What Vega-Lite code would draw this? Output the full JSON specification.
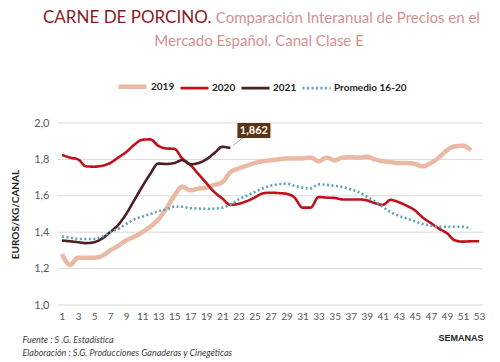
{
  "$schema": "https://vega.github.io/schema/vega-lite/v6.json",
  "autosize": {"type": "none"},
  "width": 425,
  "height": 182,
  "padding": {"left": 58, "top": 123, "right": 17, "bottom": 57},
  "background": "white",
  "config": {
    "view": {"stroke": null},
    "locale": {"number": {"decimal": ",", "thousands": ".", "grouping": [3], "currency": ["", " €"]}},
    "font": "Lato",
    "axisY": {
      "grid": false, "tickCount": 5, "labelOverlap": false,
      "domain": false, "ticks": false,
      "labelFont": "Lato", "labelFontSize": 11, "labelColor": "#595959", "labelPadding": 9,
      "titleFont": "Lato", "titleFontSize": 10, "titleFontWeight": "bold", "titleColor": "#262626", "titlePadding": 13
    }
  },
  "title": {
    "text": "CARNE DE PORCINO.",
    "anchor": "start",
    "frame": "group",
    "dx": -15,
    "offset": 20,
    "font": "Lato",
    "fontSize": 17,
    "fontWeight": "normal",
    "color": "#8b1a1f",
    "subtitle": [
      "\u200b\u00a0\u00a0\u00a0\u00a0\u00a0\u00a0\u00a0\u00a0\u00a0\u00a0\u00a0\u00a0\u00a0\u00a0\u00a0\u00a0\u00a0\u00a0\u00a0\u00a0\u00a0\u00a0\u00a0\u00a0\u00a0\u00a0\u00a0\u00a0\u00a0\u00a0\u00a0\u00a0\u00a0\u00a0\u00a0\u00a0\u00a0\u00a0\u00a0\u00a0\u00a0\u00a0\u00a0\u00a0\u00a0Comparación Interanual de Precios en el",
      "\u200b\u00a0\u00a0\u00a0\u00a0\u00a0\u00a0\u00a0\u00a0\u00a0\u00a0\u00a0\u00a0\u00a0\u00a0\u00a0\u00a0\u00a0\u00a0\u00a0\u00a0\u00a0\u00a0\u00a0\u00a0\u00a0\u00a0\u00a0\u00a0\u00a0Mercado Español. Canal Clase E"
    ],
    "subtitleFont": "Lato",
    "subtitleFontSize": 15,
    "subtitleColor": "#d8908f",
    "subtitlePadding": -16,
    "subtitleLineHeight": 23
  },
  "data": {
    "values": [
      {"serie": "2019", "semana": 1, "precio": 1.28},
      {"serie": "2019", "semana": 2, "precio": 1.22},
      {"serie": "2019", "semana": 3, "precio": 1.26},
      {"serie": "2019", "semana": 4, "precio": 1.26},
      {"serie": "2019", "semana": 5, "precio": 1.26},
      {"serie": "2019", "semana": 6, "precio": 1.27},
      {"serie": "2019", "semana": 7, "precio": 1.3},
      {"serie": "2019", "semana": 8, "precio": 1.325},
      {"serie": "2019", "semana": 9, "precio": 1.355},
      {"serie": "2019", "semana": 10, "precio": 1.375},
      {"serie": "2019", "semana": 11, "precio": 1.4},
      {"serie": "2019", "semana": 12, "precio": 1.43},
      {"serie": "2019", "semana": 13, "precio": 1.47},
      {"serie": "2019", "semana": 14, "precio": 1.53},
      {"serie": "2019", "semana": 15, "precio": 1.6},
      {"serie": "2019", "semana": 16, "precio": 1.65},
      {"serie": "2019", "semana": 17, "precio": 1.63},
      {"serie": "2019", "semana": 18, "precio": 1.64},
      {"serie": "2019", "semana": 19, "precio": 1.645},
      {"serie": "2019", "semana": 20, "precio": 1.66},
      {"serie": "2019", "semana": 21, "precio": 1.675},
      {"serie": "2019", "semana": 22, "precio": 1.73},
      {"serie": "2019", "semana": 23, "precio": 1.75},
      {"serie": "2019", "semana": 24, "precio": 1.765},
      {"serie": "2019", "semana": 25, "precio": 1.78},
      {"serie": "2019", "semana": 26, "precio": 1.79},
      {"serie": "2019", "semana": 27, "precio": 1.795},
      {"serie": "2019", "semana": 28, "precio": 1.8},
      {"serie": "2019", "semana": 29, "precio": 1.805},
      {"serie": "2019", "semana": 30, "precio": 1.805},
      {"serie": "2019", "semana": 31, "precio": 1.806},
      {"serie": "2019", "semana": 32, "precio": 1.81},
      {"serie": "2019", "semana": 33, "precio": 1.79},
      {"serie": "2019", "semana": 34, "precio": 1.81},
      {"serie": "2019", "semana": 35, "precio": 1.795},
      {"serie": "2019", "semana": 36, "precio": 1.81},
      {"serie": "2019", "semana": 37, "precio": 1.812},
      {"serie": "2019", "semana": 38, "precio": 1.81},
      {"serie": "2019", "semana": 39, "precio": 1.815},
      {"serie": "2019", "semana": 40, "precio": 1.8},
      {"serie": "2019", "semana": 41, "precio": 1.79},
      {"serie": "2019", "semana": 42, "precio": 1.785},
      {"serie": "2019", "semana": 43, "precio": 1.78},
      {"serie": "2019", "semana": 44, "precio": 1.78},
      {"serie": "2019", "semana": 45, "precio": 1.775},
      {"serie": "2019", "semana": 46, "precio": 1.762},
      {"serie": "2019", "semana": 47, "precio": 1.78},
      {"serie": "2019", "semana": 48, "precio": 1.81},
      {"serie": "2019", "semana": 49, "precio": 1.85},
      {"serie": "2019", "semana": 50, "precio": 1.872},
      {"serie": "2019", "semana": 51, "precio": 1.875},
      {"serie": "2019", "semana": 52, "precio": 1.85},
      {"serie": "2020", "semana": 1, "precio": 1.825},
      {"serie": "2020", "semana": 2, "precio": 1.81},
      {"serie": "2020", "semana": 3, "precio": 1.8},
      {"serie": "2020", "semana": 4, "precio": 1.762},
      {"serie": "2020", "semana": 5, "precio": 1.76},
      {"serie": "2020", "semana": 6, "precio": 1.765},
      {"serie": "2020", "semana": 7, "precio": 1.78},
      {"serie": "2020", "semana": 8, "precio": 1.81},
      {"serie": "2020", "semana": 9, "precio": 1.84},
      {"serie": "2020", "semana": 10, "precio": 1.88},
      {"serie": "2020", "semana": 11, "precio": 1.908},
      {"serie": "2020", "semana": 12, "precio": 1.91},
      {"serie": "2020", "semana": 13, "precio": 1.875},
      {"serie": "2020", "semana": 14, "precio": 1.86},
      {"serie": "2020", "semana": 15, "precio": 1.858},
      {"serie": "2020", "semana": 16, "precio": 1.805},
      {"serie": "2020", "semana": 17, "precio": 1.77},
      {"serie": "2020", "semana": 18, "precio": 1.72},
      {"serie": "2020", "semana": 19, "precio": 1.67},
      {"serie": "2020", "semana": 20, "precio": 1.62},
      {"serie": "2020", "semana": 21, "precio": 1.585},
      {"serie": "2020", "semana": 22, "precio": 1.55},
      {"serie": "2020", "semana": 23, "precio": 1.556},
      {"serie": "2020", "semana": 24, "precio": 1.57},
      {"serie": "2020", "semana": 25, "precio": 1.59},
      {"serie": "2020", "semana": 26, "precio": 1.613},
      {"serie": "2020", "semana": 27, "precio": 1.617},
      {"serie": "2020", "semana": 28, "precio": 1.615},
      {"serie": "2020", "semana": 29, "precio": 1.611},
      {"serie": "2020", "semana": 30, "precio": 1.59},
      {"serie": "2020", "semana": 31, "precio": 1.535},
      {"serie": "2020", "semana": 32, "precio": 1.535},
      {"serie": "2020", "semana": 33, "precio": 1.593},
      {"serie": "2020", "semana": 34, "precio": 1.59},
      {"serie": "2020", "semana": 35, "precio": 1.588},
      {"serie": "2020", "semana": 36, "precio": 1.58},
      {"serie": "2020", "semana": 37, "precio": 1.58},
      {"serie": "2020", "semana": 38, "precio": 1.58},
      {"serie": "2020", "semana": 39, "precio": 1.575},
      {"serie": "2020", "semana": 40, "precio": 1.56},
      {"serie": "2020", "semana": 41, "precio": 1.55},
      {"serie": "2020", "semana": 42, "precio": 1.578},
      {"serie": "2020", "semana": 43, "precio": 1.565},
      {"serie": "2020", "semana": 44, "precio": 1.545},
      {"serie": "2020", "semana": 45, "precio": 1.52},
      {"serie": "2020", "semana": 46, "precio": 1.48},
      {"serie": "2020", "semana": 47, "precio": 1.45},
      {"serie": "2020", "semana": 48, "precio": 1.42},
      {"serie": "2020", "semana": 49, "precio": 1.395},
      {"serie": "2020", "semana": 50, "precio": 1.355},
      {"serie": "2020", "semana": 51, "precio": 1.348},
      {"serie": "2020", "semana": 52, "precio": 1.35},
      {"serie": "2020", "semana": 53, "precio": 1.35},
      {"serie": "2021", "semana": 1, "precio": 1.354},
      {"serie": "2021", "semana": 2, "precio": 1.35},
      {"serie": "2021", "semana": 3, "precio": 1.345},
      {"serie": "2021", "semana": 4, "precio": 1.34},
      {"serie": "2021", "semana": 5, "precio": 1.345},
      {"serie": "2021", "semana": 6, "precio": 1.365},
      {"serie": "2021", "semana": 7, "precio": 1.4},
      {"serie": "2021", "semana": 8, "precio": 1.44},
      {"serie": "2021", "semana": 9, "precio": 1.5},
      {"serie": "2021", "semana": 10, "precio": 1.575},
      {"serie": "2021", "semana": 11, "precio": 1.65},
      {"serie": "2021", "semana": 12, "precio": 1.72},
      {"serie": "2021", "semana": 13, "precio": 1.777},
      {"serie": "2021", "semana": 14, "precio": 1.775},
      {"serie": "2021", "semana": 15, "precio": 1.78},
      {"serie": "2021", "semana": 16, "precio": 1.796},
      {"serie": "2021", "semana": 17, "precio": 1.773},
      {"serie": "2021", "semana": 18, "precio": 1.78},
      {"serie": "2021", "semana": 19, "precio": 1.8},
      {"serie": "2021", "semana": 20, "precio": 1.835},
      {"serie": "2021", "semana": 21, "precio": 1.869},
      {"serie": "2021", "semana": 22, "precio": 1.862},
      {"serie": "Promedio 16-20", "semana": 1, "precio": 1.376},
      {"serie": "Promedio 16-20", "semana": 2, "precio": 1.37},
      {"serie": "Promedio 16-20", "semana": 3, "precio": 1.363},
      {"serie": "Promedio 16-20", "semana": 4, "precio": 1.363},
      {"serie": "Promedio 16-20", "semana": 5, "precio": 1.363},
      {"serie": "Promedio 16-20", "semana": 6, "precio": 1.375},
      {"serie": "Promedio 16-20", "semana": 7, "precio": 1.4},
      {"serie": "Promedio 16-20", "semana": 8, "precio": 1.418},
      {"serie": "Promedio 16-20", "semana": 9, "precio": 1.445},
      {"serie": "Promedio 16-20", "semana": 10, "precio": 1.47},
      {"serie": "Promedio 16-20", "semana": 11, "precio": 1.485},
      {"serie": "Promedio 16-20", "semana": 12, "precio": 1.5},
      {"serie": "Promedio 16-20", "semana": 13, "precio": 1.515},
      {"serie": "Promedio 16-20", "semana": 14, "precio": 1.525},
      {"serie": "Promedio 16-20", "semana": 15, "precio": 1.54},
      {"serie": "Promedio 16-20", "semana": 16, "precio": 1.54},
      {"serie": "Promedio 16-20", "semana": 17, "precio": 1.532},
      {"serie": "Promedio 16-20", "semana": 18, "precio": 1.53},
      {"serie": "Promedio 16-20", "semana": 19, "precio": 1.528},
      {"serie": "Promedio 16-20", "semana": 20, "precio": 1.53},
      {"serie": "Promedio 16-20", "semana": 21, "precio": 1.535},
      {"serie": "Promedio 16-20", "semana": 22, "precio": 1.55},
      {"serie": "Promedio 16-20", "semana": 23, "precio": 1.58},
      {"serie": "Promedio 16-20", "semana": 24, "precio": 1.6},
      {"serie": "Promedio 16-20", "semana": 25, "precio": 1.62},
      {"serie": "Promedio 16-20", "semana": 26, "precio": 1.64},
      {"serie": "Promedio 16-20", "semana": 27, "precio": 1.655},
      {"serie": "Promedio 16-20", "semana": 28, "precio": 1.663},
      {"serie": "Promedio 16-20", "semana": 29, "precio": 1.667},
      {"serie": "Promedio 16-20", "semana": 30, "precio": 1.655},
      {"serie": "Promedio 16-20", "semana": 31, "precio": 1.645},
      {"serie": "Promedio 16-20", "semana": 32, "precio": 1.64},
      {"serie": "Promedio 16-20", "semana": 33, "precio": 1.663},
      {"serie": "Promedio 16-20", "semana": 34, "precio": 1.66},
      {"serie": "Promedio 16-20", "semana": 35, "precio": 1.655},
      {"serie": "Promedio 16-20", "semana": 36, "precio": 1.648},
      {"serie": "Promedio 16-20", "semana": 37, "precio": 1.635},
      {"serie": "Promedio 16-20", "semana": 38, "precio": 1.62},
      {"serie": "Promedio 16-20", "semana": 39, "precio": 1.595},
      {"serie": "Promedio 16-20", "semana": 40, "precio": 1.57},
      {"serie": "Promedio 16-20", "semana": 41, "precio": 1.54},
      {"serie": "Promedio 16-20", "semana": 42, "precio": 1.51},
      {"serie": "Promedio 16-20", "semana": 43, "precio": 1.49},
      {"serie": "Promedio 16-20", "semana": 44, "precio": 1.475},
      {"serie": "Promedio 16-20", "semana": 45, "precio": 1.46},
      {"serie": "Promedio 16-20", "semana": 46, "precio": 1.445},
      {"serie": "Promedio 16-20", "semana": 47, "precio": 1.435},
      {"serie": "Promedio 16-20", "semana": 48, "precio": 1.43},
      {"serie": "Promedio 16-20", "semana": 49, "precio": 1.43},
      {"serie": "Promedio 16-20", "semana": 50, "precio": 1.43},
      {"serie": "Promedio 16-20", "semana": 51, "precio": 1.43},
      {"serie": "Promedio 16-20", "semana": 52, "precio": 1.418}
    ]
  },
  "resolve": {"axis": {"x": "independent"}},
  "layer": [
    {
      "data": {"values": [{"precio": 1.0}, {"precio": 1.2}, {"precio": 1.4}, {"precio": 1.6}, {"precio": 1.8}, {"precio": 2.0}]},
      "mark": {"type": "rule", "color": "#d9d9d9", "strokeWidth": 1},
      "encoding": {
        "y": {"field": "precio", "type": "quantitative", "axis": {"title": "EUROS/KG/CANAL", "format": ".1f"}}
      }
    },
    {
      "mark": {"type": "line", "interpolate": "monotone"},
      "encoding": {
        "x": {
          "field": "semana", "type": "quantitative",
          "scale": {"domain": [0.5, 53.5], "nice": false, "zero": false},
          "axis": {
            "values": [1,3,5,7,9,11,13,15,17,19,21,23,25,27,29,31,33,35,37,39,41,43,45,47,49,51,53],
            "grid": false, "domain": false, "ticks": false, "labelOverlap": false,
            "labelFont": "Lato", "labelFontSize": 10, "labelColor": "#595959", "labelPadding": 6,
            "title": "SEMANAS", "titleAnchor": "end", "titleFont": "Liberation Sans",
            "titleFontSize": 9, "titleFontWeight": "bold", "titleColor": "#262626", "titlePadding": 12
          }
        },
        "y": {
          "field": "precio", "type": "quantitative",
          "scale": {"domain": [1, 2], "nice": false, "zero": false},
          "axis": {"title": "EUROS/KG/CANAL", "format": ".1f"}
        },
        "color": {
          "field": "serie", "type": "nominal",
          "scale": {"domain": ["2019", "2020", "2021", "Promedio 16-20"], "range": ["#e9b9a3", "#c0101a", "#4d1f20", "#5ba3b5"]},
          "legend": {
            "title": null, "orient": "none", "direction": "horizontal", "legendX": 58, "legendY": -53,
            "symbolType": "stroke", "symbolSize": 784, "labelFont": "Lato", "labelFontSize": 10,
            "labelFontWeight": "bold", "labelColor": "#262626", "labelOffset": 2, "columnPadding": 0
          }
        },
        "strokeDash": {
          "field": "serie", "type": "nominal",
          "scale": {"domain": ["2019", "2020", "2021", "Promedio 16-20"], "range": [[1, 0], [1, 0], [1, 0], [2, 2.5]]},
          "legend": {
            "title": null, "orient": "none", "direction": "horizontal", "legendX": 58, "legendY": -53,
            "symbolType": "stroke", "symbolSize": 784, "labelFont": "Lato", "labelFontSize": 10,
            "labelFontWeight": "bold", "labelColor": "#262626", "labelOffset": 2, "columnPadding": 0
          }
        },
        "strokeWidth": {
          "field": "serie", "type": "nominal",
          "scale": {"type": "ordinal", "domain": ["2019", "2020", "2021", "Promedio 16-20"], "range": [4.5, 2.6, 2.6, 2.6]},
          "legend": null
        }
      }
    },
    {
      "mark": {"type": "point", "filled": false, "shape": "M 0.25 -0.25 L 1.3 -1.1", "size": 400, "stroke": "#a6a6a6", "strokeWidth": 1, "opacity": 1},
      "transform": [{"filter": "datum.serie == '2021' && datum.semana == 22"}],
      "encoding": {
        "x": {"field": "semana", "type": "quantitative", "axis": null},
        "y": {"field": "precio", "type": "quantitative", "axis": {"title": "EUROS/KG/CANAL", "format": ".1f"}}
      }
    },
    {
      "mark": {"type": "point", "filled": true, "shape": "M 0.7 -2.5 L 4 -2.5 L 4 -1 L 0.7 -1 Z", "size": 400, "color": "#5b3510", "opacity": 1},
      "transform": [{"filter": "datum.serie == '2021' && datum.semana == 22"}],
      "encoding": {
        "x": {"field": "semana", "type": "quantitative", "axis": null},
        "y": {"field": "precio", "type": "quantitative", "axis": {"title": "EUROS/KG/CANAL", "format": ".1f"}}
      }
    },
    {
      "mark": {"type": "text", "dx": 23.5, "dy": -17.5, "align": "center", "baseline": "middle", "font": "Lato", "fontSize": 11, "fontWeight": "bold", "color": "white"},
      "transform": [{"filter": "datum.serie == '2021' && datum.semana == 22"}],
      "encoding": {
        "x": {"field": "semana", "type": "quantitative", "axis": null},
        "y": {"field": "precio", "type": "quantitative", "axis": {"title": "EUROS/KG/CANAL", "format": ".1f"}},
        "text": {"field": "precio", "type": "quantitative", "format": ".3f"}
      }
    },
    {
      "mark": {"type": "text", "opacity": 0},
      "transform": [{"filter": "datum.serie == '2021' && datum.semana == 22"}],
      "encoding": {
        "x": {
          "field": "semana", "type": "quantitative",
          "axis": {
            "orient": "bottom", "labels": false, "ticks": false, "domain": false, "grid": false,
            "title": ["Fuente :  S .G. Estadística", "Elaboración : S.G. Producciones Ganaderas y Cinegéticas"],
            "titleX": -36, "titleY": 30, "titleAlign": "left", "titleBaseline": "top", "titleAngle": 0,
            "titleFont": "Lato", "titleFontSize": 9, "titleFontStyle": "italic", "titleFontWeight": "normal",
            "titleColor": "#404040", "titleLineHeight": 13
          }
        },
        "y": {"field": "precio", "type": "quantitative", "axis": {"title": "EUROS/KG/CANAL", "format": ".1f"}},
        "text": {"value": ""}
      }
    }
  ]
}
